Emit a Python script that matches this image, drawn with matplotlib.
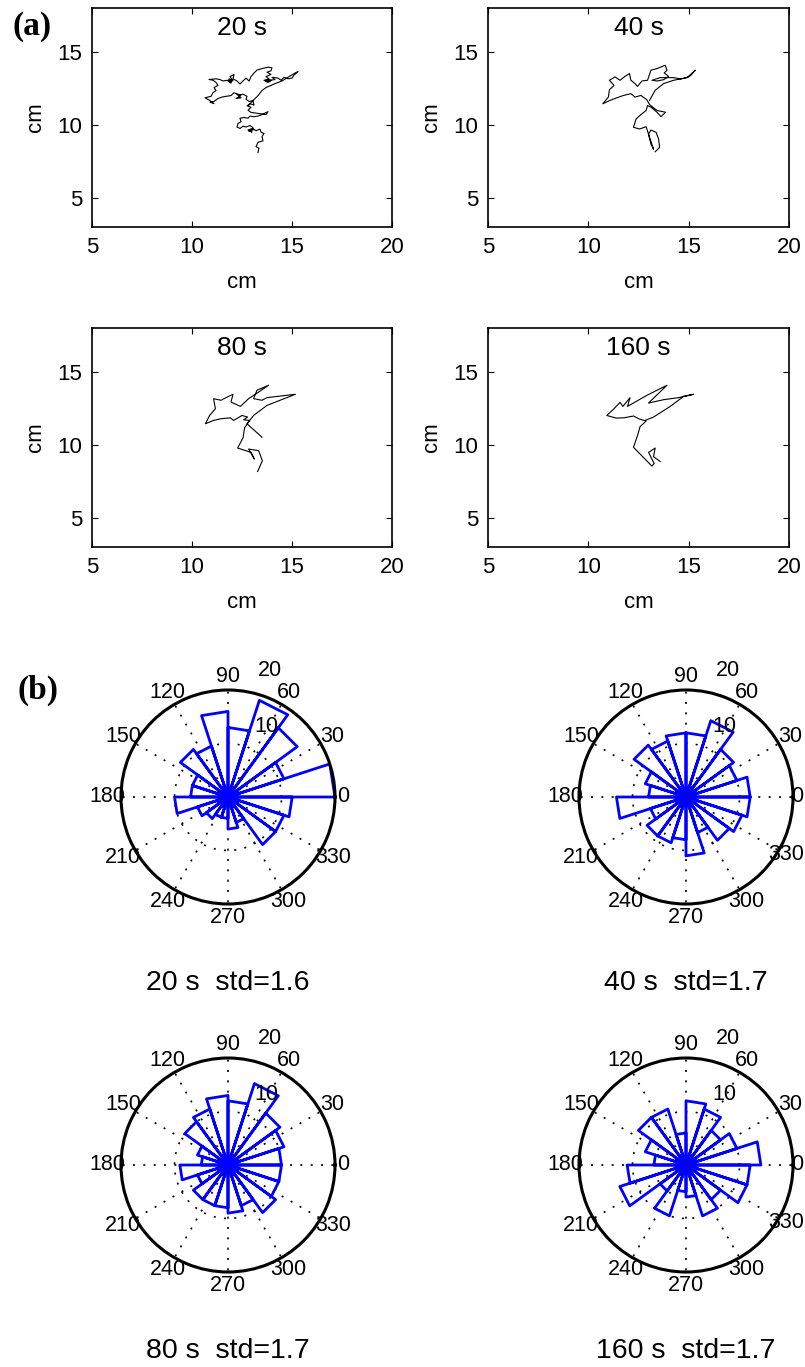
import numpy as np
import matplotlib
matplotlib.use('Agg')
import matplotlib.pyplot as plt

plt.rcParams['font.family'] = ['Liberation Sans', 'DejaVu Sans']

# tracked position (cm) for each sampling interval
x20 = [13.3, 13.35, 13.2, 13.3, 13.55, 13.5, 13.6, 13.45, 13.4, 13.2, 13.0, 12.85, 13.0, 12.8, 12.95, 12.85, 13.05,
       13.05, 12.9, 12.7, 12.55, 12.4, 12.25, 12.3, 12.45, 12.4, 12.6, 12.8, 12.9, 13.1, 13.3, 13.5, 13.8,
       13.7, 13.45, 13.2, 12.95, 12.8, 12.95, 12.75, 12.9, 13.1, 13.05, 12.85, 12.7, 12.75, 12.55, 12.3, 12.45, 12.2,
       12.4, 12.25, 12.45, 12.35, 12.1, 11.95, 11.7, 11.5, 11.3, 11.1, 10.9, 11.1, 10.85, 10.65, 10.95, 11.05,
       11.2, 11.1, 11.3, 11.2, 11.05, 10.85, 11.2, 11.4, 11.55, 11.75, 11.9, 11.8, 12.0, 11.95,
       11.85, 12.05, 11.9, 12.1, 12.05, 12.25, 12.4, 12.55, 12.7, 12.85, 12.95, 13.1, 13.25, 13.5, 13.8, 14.0,
       13.95, 13.75, 13.95, 13.7, 13.85, 13.6, 13.9, 13.75, 13.95, 13.8, 13.65,
       14.15, 14.0, 14.3, 14.45, 14.6, 14.8, 15.0, 15.1, 15.3, 15.1, 14.85, 14.5, 14.2, 13.95, 13.7, 13.5, 13.3,
       13.15, 13.0, 12.85]
y20 = [8.1, 8.4, 8.5, 8.8, 8.9, 9.2, 9.4, 9.5, 9.7, 9.6, 9.75, 9.6, 9.5, 9.65, 9.7, 9.55, 9.65,
       9.8, 9.95, 9.85, 9.9, 9.75, 9.85, 10.1, 10.2, 10.45, 10.5, 10.45, 10.6, 10.55, 10.6, 10.7, 10.9,
       10.7, 10.75, 10.8, 10.85, 11.0, 11.2, 11.3, 11.45, 11.35, 11.65, 11.6, 11.75, 11.95, 12.1, 12.0, 11.85, 11.8,
       11.95, 12.1, 12.05, 12.05, 12.2, 12.0, 11.95, 11.9, 11.8, 11.6, 11.55, 11.45, 11.7, 11.85, 11.95, 12.2,
       12.35, 12.55, 12.7, 12.9, 13.05, 13.1, 13.15, 13.1, 13.0, 13.05, 12.9, 13.05, 13.1, 12.85,
       13.15, 13.0, 13.3, 13.45, 13.15, 13.0, 12.8, 13.0, 13.2, 13.0, 13.3, 13.55, 13.75, 13.85, 13.95, 13.9,
       13.7, 13.6, 13.45, 13.3, 13.15, 13.05, 12.95, 13.1, 13.05, 12.9, 13.0,
       13.1, 13.25, 13.2, 13.05, 13.25, 13.15, 13.2, 13.4, 13.65, 13.5, 13.3, 13.0, 12.85, 12.7, 12.55, 12.35, 12.0,
       11.8, 11.6, 11.35]

x40 = [13.33, 13.55, 13.5, 13.38, 13.12, 13.0, 13.12, 13.25, 13.05, 12.88, 12.55, 12.25, 12.38, 12.62,
       12.88, 12.95, 13.12, 13.42, 13.62, 13.85, 13.42, 13.05, 12.92, 12.62, 12.33, 12.12, 11.75, 11.42,
       11.08, 10.72, 11.0, 11.05, 11.28, 11.05, 11.33, 11.58, 11.83, 12.05, 12.12, 12.33, 12.45, 12.67,
       12.95, 13.12, 13.42, 13.83, 13.92, 13.78, 14.0, 13.75, 13.42, 13.17, 13.58, 14.25, 14.62, 15.0,
       15.12, 15.33, 14.92, 14.25, 13.75, 13.33, 13.05]
y40 = [8.15, 8.45, 9.02, 9.48, 9.64, 9.37, 8.68, 8.33, 9.14, 9.87, 9.71, 9.83, 10.40, 10.70,
       10.98, 11.32, 11.21, 10.86, 10.56, 10.86, 10.98, 11.39, 11.71, 12.01, 11.90, 12.13, 12.01, 11.85,
       11.67, 11.44, 11.90, 12.40, 12.70, 13.05, 13.28, 13.05, 13.32, 13.51, 13.05, 12.82, 12.63, 13.0,
       13.05, 13.74, 13.85, 14.08, 13.74, 13.55, 13.32, 13.09, 13.0, 13.05, 13.23, 13.23, 13.14, 13.28,
       13.41, 13.74, 13.23, 13.05, 12.82, 12.36, 11.67]

x80 = [13.28, 13.52, 13.33, 12.83, 13.12, 12.95, 12.28, 12.55, 12.63, 12.88, 12.58, 12.78, 12.5,
       12.08, 11.92, 11.42, 11.08, 10.67, 10.88, 11.17, 11.08, 11.45, 11.83, 12.05, 11.95, 12.42,
       12.83, 13.17, 13.83, 13.25, 13.08, 13.5, 13.75, 15.17, 13.75, 13.08, 12.75, 13.5]
y80 = [8.17, 8.91, 9.60, 9.71, 9.02, 9.48, 9.78, 10.47, 11.16, 11.67, 11.71, 11.90, 12.01,
       11.67, 11.85, 11.78, 11.67, 11.44, 12.01, 12.47, 13.16, 13.05, 13.32, 13.46, 12.93, 12.63,
       13.16, 13.46, 14.08, 13.74, 13.16, 13.05, 13.23, 13.46, 12.70, 12.01, 11.44, 10.52]

x160 = [13.58, 13.25, 13.33, 13.0, 13.28, 13.17, 12.25, 12.45, 12.58, 12.88, 12.52, 12.25, 11.78, 11.38,
        10.92, 11.28, 11.58, 11.72, 12.08, 11.95, 12.92, 13.92, 13.0, 13.75, 14.5, 15.25, 14.75, 14.08,
        13.25, 12.83]
y160 = [8.86, 9.18, 9.78, 9.48, 8.72, 8.54, 9.83, 10.63, 11.25, 11.62, 11.78, 11.97, 11.85, 11.83,
        12.01, 12.47, 12.91, 12.63, 13.23, 12.63, 13.39, 14.08, 12.86, 13.09, 13.23, 13.46, 13.32, 12.63,
        11.90, 11.67]

labels = ['20 s', '40 s', '80 s', '160 s']
stds = [1.6, 1.7, 1.7, 1.7]

# step-direction counts, 20 bins of 18 deg starting at 0 deg
rose20 = [20, 11, 16, 19, 13, 16, 10, 11, 7, 7, 10, 6, 5, 4, 4, 6, 5, 11, 11, 12]
rose40 = [12, 10, 11, 15, 12, 12, 11, 12, 8, 7, 13, 7, 9, 9, 8, 11, 7, 10, 11, 12]
rose80 = [10, 11, 12, 16, 12, 13, 11, 10, 6, 5, 9, 6, 8, 8, 8, 9, 8, 11, 10, 10]
rose160 = [14, 10, 8, 11, 12, 6, 11, 11, 8, 6, 11, 13, 6, 10, 5, 6, 10, 8, 12, 12]

W, H = 805, 1367
fig = plt.figure(figsize=(W / 100, H / 100), dpi=100)


def px_rect(left, top, right, bottom):
    return [left / W, 1 - bottom / H, (right - left) / W, (bottom - top) / H]


# (a) trajectories
traj = [(x20, y20), (x40, y40), (x80, y80), (x160, y160)]
boxes = [(92, 8, 392, 227), (488, 8, 789, 227), (92, 328, 392, 547), (488, 328, 789, 547)]
for (xs, ys), lab, box in zip(traj, labels, boxes):
    ax = fig.add_axes(px_rect(*box))
    ax.plot(xs, ys, color='k', lw=0.8)
    ax.set_xlim(5, 20)
    ax.set_ylim(3, 18)
    ax.set_xticks([5, 10, 15, 20])
    ax.set_yticks([5, 10, 15])
    ax.tick_params(direction='in', top=True, right=True, length=4, width=0.8,
                   labelsize=16, pad=7, colors='k')
    for s in ax.spines.values():
        s.set_linewidth(1.2)
    ax.set_xlabel('cm', fontsize=16, labelpad=10)
    ax.set_ylabel('cm', fontsize=16, labelpad=8)
    ax.text(0.5, 0.91, lab, transform=ax.transAxes, ha='center', va='center', fontsize=19)

fig.text(32 / W, 1 - 26 / H, '(a)', fontsize=24, fontweight='bold',
         family='Liberation Serif', ha='center', va='center')
fig.text(38 / W, 1 - 690 / H, '(b)', fontsize=24, fontweight='bold',
         family='Liberation Serif', ha='center', va='center')

# (b) rose diagrams
roses = [rose20, rose40, rose80, rose160]
centers = [(228, 797), (686, 797), (228, 1165), (686, 1165)]
R = 107
rmax = 20
edges = np.deg2rad(np.arange(0, 361, 18))
for counts, lab, sd, (cx, cy) in zip(roses, labels, stds, centers):
    ax = fig.add_axes(px_rect(cx - R, cy - R, cx + R, cy + R), projection='polar')
    ax.set_xticks([])
    ax.set_yticks([])
    ax.grid(False)
    ax.spines['polar'].set_linewidth(2.2)

    # dotted spokes and inner ring
    for a in range(0, 360, 30):
        t = np.deg2rad(a)
        ax.plot([t, t], [0, rmax], color='k', lw=1.2, dashes=(1.2, 5))
    ring = np.linspace(0, 2 * np.pi, 181)
    ax.plot(ring, np.full_like(ring, 10), color='k', lw=1.2, dashes=(1.2, 5))

    th, rr = [], []
    for i, c in enumerate(counts):
        th += [edges[i], edges[i], edges[i + 1], edges[i + 1]]
        rr += [0, c, c, 0]
    ax.plot(th, rr, color='b', lw=2)

    right_col = cx > W / 2
    for a in range(0, 360, 30):
        rad = 1.13
        if a == 0:
            rad = 1.04 if right_col else 1.075
        elif a == 330 and right_col:
            rad = 1.08
        ax.text(np.deg2rad(a), rad * rmax, str(a), ha='center', va='center', fontsize=15.5)
    ax.text(np.deg2rad(61.5), 14.9, '10', ha='center', va='center', fontsize=15.5)
    ax.text(np.deg2rad(71.7), 25, '20', ha='center', va='center', fontsize=15.5)
    ax.set_ylim(0, rmax)

    fig.text(cx / W, 1 - (cy + 186) / H, f'{lab}  std={sd}', ha='center', va='center', fontsize=20.5)

fig.savefig('out.png', dpi=100)
